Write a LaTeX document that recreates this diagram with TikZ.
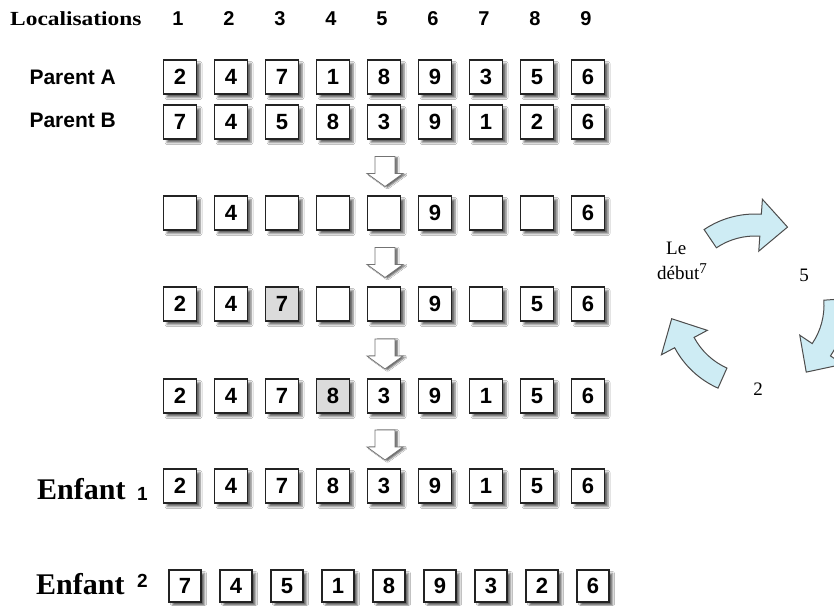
\documentclass[tikz,border=0pt]{standalone}
\usepackage{fontspec}
\setmainfont{Liberation Serif}
\setsansfont{Liberation Sans}
\usetikzlibrary{calc,positioning,shadows.blur}

\definecolor{cyclefill}{RGB}{206,236,244}
\definecolor{celledge}{RGB}{35,35,35}

\tikzset{
  cell/.style={draw=celledge, line width=1.1pt, fill=white, inner sep=0pt,
    minimum width=33pt, minimum height=34pt,
    font=\sffamily\bfseries\fontsize{22}{22}\selectfont,
    blur shadow={shadow xshift=3.5pt, shadow yshift=-3.5pt,
      shadow blur radius=2pt, shadow opacity=60}},
  marked/.style={cell, fill=black!14},
  smallcell/.style={cell, minimum width=32pt, minimum height=32pt},
  colnum/.style={font=\sffamily\bfseries\fontsize{20}{20}\selectfont},
  rowname/.style={anchor=west, font=\sffamily\bfseries\fontsize{21}{21}\selectfont},
  childname/.style={anchor=base west, inner sep=0pt,
    font=\bfseries\fontsize{30}{30}\selectfont},
  childnum/.style={anchor=base west, inner sep=0pt,
    font=\sffamily\bfseries\fontsize{19}{19}\selectfont},
  cyclelabel/.style={inner sep=0pt, font=\fontsize{19}{19}\selectfont},
  flowarrow/.style={draw=black!55, line width=0.8pt, fill=white,
    blur shadow={shadow xshift=2.5pt, shadow yshift=-1pt,
      shadow blur radius=1.5pt, shadow opacity=60}},
  cyclearrow/.style={draw=black!70, line width=1pt, fill=cyclefill},
  flowdown/.pic={\path[flowarrow] (-10,-15) -- (-10,2) -- (-18,2) -- (0,15)
    -- (18,2) -- (10,2) -- (10,-15) -- cycle;}
}

% bent block arrow of the cycle, turning clockwise
\newcommand{\cyclearr}[2]{%
  \path[cyclearrow] (#1:91) arc[start angle=#1, end angle=#2, radius=91]
    -- (#2:106) -- ($(#2:80)+(#2-90:27)$) -- (#2:54) -- (#2:69)
    arc[start angle=#2, end angle=#1, radius=69] -- cycle;}

\begin{document}
\begin{tikzpicture}[x=1pt, y=-1pt]
  \clip (0,0) rectangle (834,605);
  \fill[white] (0,0) rectangle (834,605);

  % heads of the columns
  \node[anchor=west, inner sep=0pt, font=\bfseries\fontsize{20}{20}\selectfont]
    (loc) at (10,19) {\scalebox{1.17}[1]{Localisations}};
  \foreach \i in {1,...,9}
    \node[colnum] (h\i) at ({178+51*(\i-1)},19) {\i};

  % the two parents
  \node[rowname] (pa) at (26,77) {Parent A};
  \node[rowname] (pb) at (26,120) {Parent B};
  \foreach \v [count=\i] in {2,4,7,1,8,9,3,5,6}
    \node[cell] (a\i) at ({180+51*(\i-1)},77) {\v};
  \foreach \v [count=\i] in {7,4,5,8,3,9,1,2,6}
    \node[cell] (b\i) at ({180+51*(\i-1)},122) {\v};

  % steps of the cycle
  \foreach \v/\s [count=\i] in {/cell,4/cell,/cell,/cell,/cell,9/cell,/cell,/cell,6/cell}
    \node[\s] (s\i) at ({180+51*(\i-1)},213) {\v};
  \foreach \v/\s [count=\i] in {2/cell,4/cell,7/marked,/cell,/cell,9/cell,/cell,5/cell,6/cell}
    \node[\s] (t\i) at ({180+51*(\i-1)},304) {\v};
  \foreach \v/\s [count=\i] in {2/cell,4/cell,7/cell,8/marked,3/cell,9/cell,1/cell,5/cell,6/cell}
    \node[\s] (u\i) at ({180+51*(\i-1)},396) {\v};

  % children
  \foreach \v [count=\i] in {2,4,7,8,3,9,1,5,6}
    \node[cell] (c\i) at ({180+51*(\i-1)},486) {\v};
  \foreach \v [count=\i] in {7,4,5,1,8,9,3,2,6}
    \node[smallcell] (d\i) at ({185+51*(\i-1)},586) {\v};
  \node[childname] (e1) at (37,499) {Enfant};
  \node[childnum] (n1) at (137,500) {1};
  \node[childname] (e2) at (36,594) {Enfant};
  \node[childnum] (n2) at (137,587) {2};

  % arrows between the rows
  \pic at ($(b5.south)!0.5!(s5.north)+(1,4)$) {flowdown};
  \pic at ($(s5.south)!0.5!(t5.north)+(1,4)$) {flowdown};
  \pic at ($(t5.south)!0.5!(u5.north)+(1,4)$) {flowdown};
  \pic at ($(u5.south)!0.5!(c5.north)+(1,4)$) {flowdown};

  % the cycle
  \begin{scope}[shift={(755,305)}, yscale=-1]
    \cyclearr{124}{86}
    \cyclearr{4}{-34}
    \cyclearr{246}{208}
  \end{scope}
  \node[cyclelabel, anchor=base west] (le) at (666,254) {Le};
  \node[cyclelabel, anchor=base west] (debut) at (657,279)
    {début\raisebox{6pt}{\fontsize{15}{15}\selectfont 7}};
  \node[cyclelabel] (five) at (804,275) {5};
  \node[cyclelabel] (two) at (758,389) {2};
\end{tikzpicture}
\end{document}
